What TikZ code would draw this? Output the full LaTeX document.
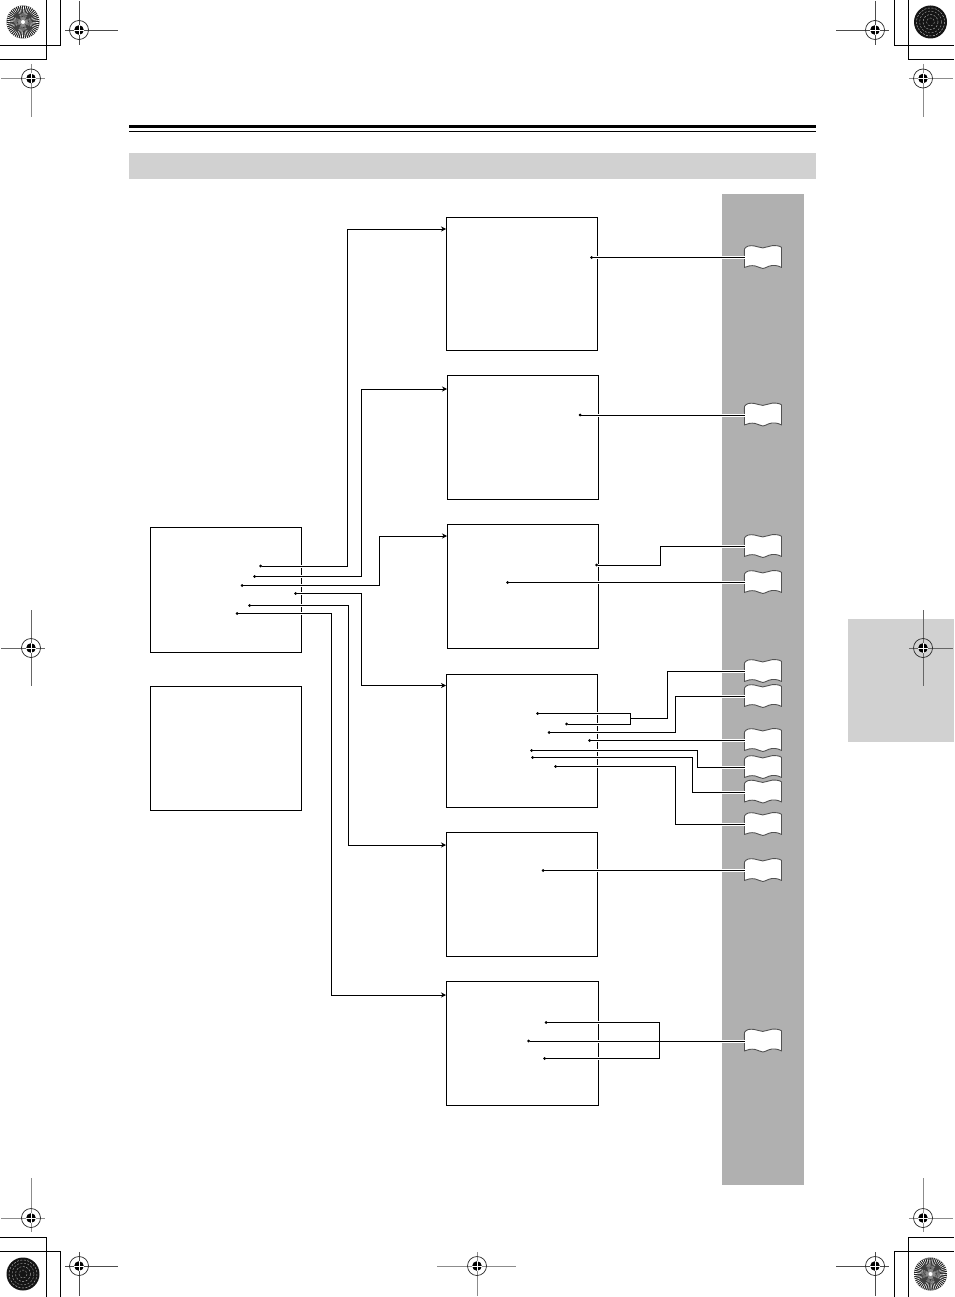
\documentclass[tikz,border=0pt]{standalone}
\usetikzlibrary{arrows.meta,calc}
\definecolor{panelgrey}{HTML}{B0B0B0}
\definecolor{bandgrey}{HTML}{D1D1D1}
\tikzset{
  boxnode/.style={draw=black,line width=0.9pt,fill=none,inner sep=0pt,outer sep=0pt,anchor=north west},
  wire/.style={line width=0.9pt,{Circle[length=2.8pt,width=2.8pt]}-},
  wirein/.style={line width=0.9pt,{Circle[length=2.8pt,width=2.8pt]}-{Stealth[length=5pt,width=5pt]}},
  halo/.style={white,line width=3pt},
  crop/.style={black,line width=0.9pt},
  bookmark/.style={inner sep=0pt,outer sep=0pt,minimum width=37pt,minimum height=22pt},
  bookline/.style={draw=black!68,fill=white,line width=0.9pt,line join=round},
  bandfill/.style={fill=bandgrey,draw=none},
}
\newcommand{\boxat}[5]{\node[boxnode,minimum width=#4-#2,minimum height=#5-#3] (#1) at (#2,#3) {};}
\newcommand{\bookat}[2]{%
  \draw[bookline,shift={(763,#2+0.4)}] (-18.5,9.5)
    .. controls (-18.5,-4) and (-18.7,-7) .. (-18.5,-9)
    .. controls (-17,-12) and (-13,-12.6) .. (-9,-12)
    .. controls (-6,-11.5) and (-3,-10.2) .. (-0.2,-10)
    .. controls (3,-10.2) and (6,-12) .. (9,-12.2)
    .. controls (13,-12.6) and (17,-12) .. (18.5,-10.5)
    -- (18.5,9.5)
    .. controls (14,7.2) and (10,7) .. (6,8.3)
    .. controls (3,9.6) and (1,10.6) .. (-0.2,10.6)
    .. controls (-2,10.6) and (-5,8.6) .. (-8,8)
    .. controls (-12,7.4) and (-15,8) .. (-18.5,9.5) -- cycle;
  \node[bookmark] (#1) at (763,#2) {};}
\newcommand{\regmark}[8]{% name x y h-from h-to v-from v-to grey
  \coordinate (#1) at (#2,#3);
  \draw[black!#8,line width=0.7pt] (#4,#3) -- (#5,#3) (#2,#6) -- (#2,#7);
  \draw[black!85,line width=0.7pt] (#1) circle (9.5);
  \fill[black] (#1) circle (4.8);
  \draw[white,line width=0.6pt] ($(#1)+(-5,0)$) -- ($(#1)+(5,0)$) ($(#1)+(0,-5)$) -- ($(#1)+(0,5)$);}
\newcommand{\sunburst}[3]{%
  \coordinate (#1) at (#2,#3);
  \fill[black!88] (#1) circle (16.5);
  \foreach \a in {0,7.5,...,352.5}{
    \fill[white] (#1) ++(\a:3.5) -- ($(#1)+(\a+1:16.5)$) -- ($(#1)+(\a+3.5:16.5)$) -- cycle;}
  \fill[black!45] (#1) circle (5);
  \foreach \a in {45,135,225,315}{\fill[black!75] (#1) ++(\a:3) -- ++(\a+25:9) -- ++(\a-90:7) -- cycle;}
  \fill[white] (#1) circle (2);}
\newcommand{\darkdisc}[3]{%
  \coordinate (#1) at (#2,#3);
  \fill[black!92] (#1) circle (16.5);
  \foreach \r/\g in {4/45,7.5/35,11/45,14/30}{
    \draw[black!\g,line width=0.5pt,dash pattern=on 2pt off 1.5pt] (#1) circle (\r);}}
\begin{document}
\begin{tikzpicture}[x=1pt,y=-1pt]
\useasboundingbox (0,0) rectangle (954,1297);
\fill[white] (0,0) rectangle (954,1297);
% bands
\fill[bandfill] (129,153) rectangle (816,179);
\fill[bandfill] (848,619) rectangle (954,742);
\fill[panelgrey] (722,194) rectangle (804,1185);
\fill[black] (129,125.2) rectangle (816,128.2);
\fill[black] (129,130.7) rectangle (816,131.6);
% crop marks
\draw[crop] (60.5,0) |- (0,45) (46,0) |- (0,59);
\draw[crop] (894,0) |- (954,45) (908,0) |- (954,59);
\draw[crop] (46,1297) |- (0,1237) (60.5,1297) |- (0,1251);
\draw[crop] (908,1297) |- (954,1237) (894,1297) |- (954,1251);
\sunburst{dTL}{23}{22}
\darkdisc{dTR}{930.5}{22}
\darkdisc{dBL}{23}{1274}
\sunburst{dBR}{930.5}{1274}
% registration marks
\regmark{rA}{79}{30}{65}{118}{1}{45}{70}
\regmark{rB}{31}{78.5}{1}{45}{64}{117}{45}
\regmark{rC}{875}{30}{836}{889}{1}{45}{70}
\regmark{rD}{923}{78.5}{909}{953}{64}{117}{45}
\regmark{rE}{31}{648}{1}{45}{610}{686}{60}
\regmark{rF}{923}{648}{909}{953}{610}{686}{60}
\regmark{rG}{31}{1218}{1}{45}{1178}{1232}{45}
\regmark{rH}{923}{1218}{909}{953}{1178}{1232}{45}
\regmark{rI}{79}{1266}{65}{118}{1252}{1296}{70}
\regmark{rJ}{875}{1266}{836}{889}{1252}{1296}{70}
\regmark{rK}{477}{1266}{437}{516}{1252}{1296}{45}
% boxes
\boxat{L1}{150}{527}{301.5}{652.5}
\boxat{L2}{150}{686}{301.5}{810}
\boxat{A}{446}{217}{597.5}{350}
\boxat{B}{447}{375.5}{598.5}{499.5}
\boxat{C}{447}{524}{598.5}{648.5}
\boxat{D}{446}{674}{597.5}{807.5}
\boxat{E}{446}{832}{597.5}{956.5}
\boxat{F}{446}{981}{598.5}{1105.5}
% books
\bookat{b1}{257.5}
\bookat{b2}{415}
\bookat{b3}{546.5}
\bookat{b4}{582.5}
\bookat{b5}{671.5}
\bookat{b6}{696.5}
\bookat{b7}{740.5}
\bookat{b8}{767.5}
\bookat{b9}{792}
\bookat{b10}{824.5}
\bookat{b11}{870.5}
\bookat{b12}{1041}
% connector ends
\coordinate (s1) at (259.2,566); \coordinate (t1) at (A.west |- 0,229);
\coordinate (s2) at (253.2,576.5); \coordinate (t2) at (B.west |- 0,389);
\coordinate (s3) at (240.7,585.5); \coordinate (t3) at (C.west |- 0,536);
\coordinate (s4) at (294.2,593.5); \coordinate (t4) at (D.west |- 0,685.5);
\coordinate (s5) at (248.2,605.5); \coordinate (t5) at (E.west |- 0,845);
\coordinate (s6) at (235.7,613.5); \coordinate (t6) at (F.west |- 0,995);
\coordinate (a1) at (590.2,257.5);
\coordinate (a2) at (578.7,415);
\coordinate (a3) at (595.2,565);
\coordinate (a4) at (506.2,582.5);
\coordinate (d1) at (536.2,713.5);
\coordinate (d2) at (565.2,724);
\coordinate (d3) at (547.7,732.5);
\coordinate (d4) at (588.2,740.5);
\coordinate (d5) at (530.2,750.5);
\coordinate (d6) at (531.2,757.5);
\coordinate (d7) at (554.2,766.5);
\coordinate (e1) at (541.7,870.5);
\coordinate (f1) at (544.7,1022.5);
\coordinate (f2) at (527.2,1041);
\coordinate (f3) at (543.2,1058.5);
\newcommand{\allwires}{%
  \draw[wirein] (s1) -| (347.5,229) -- (t1);
  \draw[wirein] (s2) -| (361.5,389) -- (t2);
  \draw[wirein] (s3) -| (379.5,536) -- (t3);
  \draw[wirein] (s4) -| (361.5,685.5) -- (t4);
  \draw[wirein] (s5) -| (348,845) -- (t5);
  \draw[wirein] (s6) -| (331.5,995) -- (t6);
  \draw[wire] (a1) -- (b1.west);
  \draw[wire] (a2) -- (b2.west);
  \draw[wire] (a3) -| (660.5,546.5) -- (b3.west);
  \draw[wire] (a4) -- (b4.west);
  \draw[wire] (d1) -| (630.5,718.5) -| (667,671.5) -- (b5.west);
  \draw[wire] (d2) -| (630.5,718.5);
  \draw[wire] (d3) -| (675.5,696.5) -- (b6.west);
  \draw[wire] (d4) -- (b7.west);
  \draw[wire] (d5) -| (697.5,767.5) -- (b8.west);
  \draw[wire] (d6) -| (692.5,792) -- (b9.west);
  \draw[wire] (d7) -| (675.5,824.5) -- (b10.west);
  \draw[wire] (e1) -- (b11.west);
  \draw[wire] (f1) -| (659.5,1041);
  \draw[wire] (f3) -| (659.5,1041);
  \draw[wire] (f2) -- (b12.west);
}
\begin{scope}[wire/.style={halo},wirein/.style={halo}]
\allwires
\end{scope}
\allwires
\end{tikzpicture}
\end{document}
